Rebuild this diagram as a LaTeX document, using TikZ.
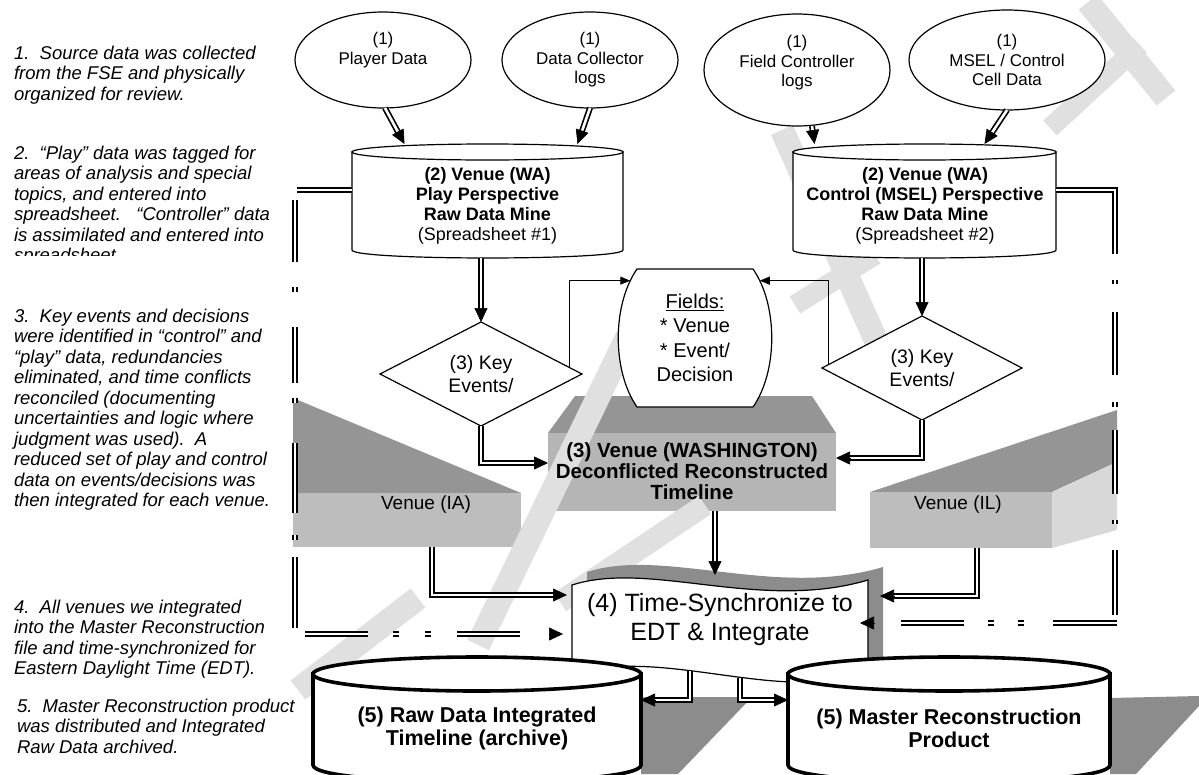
\documentclass[tikz,border=0pt]{standalone}
\usepackage{fontspec}
\setmainfont{Liberation Sans}
\usetikzlibrary{shapes.geometric,arrows.meta,calc}
\definecolor{topgray}{HTML}{959595}
\definecolor{frontgray}{HTML}{BDBDBD}
\definecolor{sidegray}{HTML}{D8D8D8}
\definecolor{washgray}{HTML}{B5B5B5}
\definecolor{shadowgray}{HTML}{8C8C8C}
\definecolor{draftgray}{HTML}{E0E0E0}

% cylinder outline around an (empty) body node: #1 name, #2 rim half-height, #3 half width, #4 style
\newcommand{\drawcyl}[4]{%
  \draw[#4] ([yshift=-#2pt]#1.north west) -- (#1.south west)
    .. controls ([yshift=-1.33*#2pt]#1.south west) and ([yshift=-1.33*#2pt]#1.south east) .. (#1.south east)
    -- ([yshift=-#2pt]#1.north east) -- cycle;
  \draw[#4] ([yshift=-#2pt]#1.north) ellipse [x radius=#3pt, y radius=#2pt];}

\begin{document}
\begin{tikzpicture}[x=1pt, y=-1pt,
  every node/.style={inner sep=0pt, outer sep=0pt},
  dbl/.style={double=white, double distance=2.6pt, line width=1.7pt},
  arrowtip/.style={-{Triangle[length=14pt,width=13pt]}, line width=0.6pt},
  thinarr/.style={line width=1.1pt, -{Triangle[length=10pt,width=8pt]}},
  srcell/.style={ellipse, draw, line width=1.2pt, fill=white},
  srctext/.style={align=center, font=\fontsize{17}{19.5}\selectfont},
  minetext/.style={align=center, font=\fontsize{18}{20}\selectfont\bfseries},
  keydiamond/.style={diamond, draw, line width=1.2pt, fill=white, align=center,
    font=\fontsize{19.5}{23}\selectfont},
  venuetext/.style={font=\fontsize{19}{22}\selectfont},
  storetext/.style={align=center, font=\fontsize{21.5}{23}\selectfont\bfseries},
  note/.style={anchor=north west, align=left, font=\fontsize{18.5}{20.5}\selectfont\itshape},
  wmstroke/.style={draw=draftgray, line width=24pt, line cap=butt},
]
\clip (0,0) rectangle (1199,774);
\fill[white] (0,0) rectangle (1199,774);

% ---------- shaded venue blocks
\fill[topgray] (293,398) -- (521,493) -- (293,493) -- cycle;
\node[fill=frontgray, minimum width=228pt, minimum height=54pt] (ia) at (407,520) {};

\fill[topgray] (870,492) -- (1117,410) -- (1117,462) -- (1052,492) -- cycle;
\fill[sidegray] (1052,492) -- (1117,462) -- (1117,530) -- (1052,548) -- cycle;
\node[fill=frontgray, minimum width=182pt, minimum height=56pt] (il) at (961,520) {};

\fill[topgray] (548,433) -- (575,396) -- (812,396) -- (836,433) -- cycle;
\node[fill=washgray, minimum width=288pt, minimum height=78pt] (w) at (692,472) {};

% ---------- cast shadows of the bottom stores
\fill[shadowgray] (641,697) -- (752,697) -- (678,774) -- (641,774) -- cycle;
\fill[shadowgray] (1110,698) -- (1199,696) -- (1199,706) -- (1136,774) -- (1110,774) -- cycle;

% ---------- faint DRAFT strokes behind the chart
\draw[wmstroke] (1088,2) -- (1166,98);
\draw[wmstroke, line width=20pt] (1140,45) -- (1050,128);
\draw[wmstroke] (782,130) -- (878,345);
\draw[wmstroke, line width=20pt] (795,305) -- (875,255);
\draw[wmstroke] (478,645) -- (650,290);
\draw[wmstroke, line width=22pt] (560,602) -- (705,505);
\draw[wmstroke] (298,690) -- (418,598);

% ---------- block labels
\node[venuetext] (iat) at (426,505) {Venue (IA)};
\node[venuetext] (ilt) at (958,505) {Venue (IL)};
\node[align=center, font=\fontsize{20.5}{21}\selectfont\bfseries] (wt) at (692,471)
  {(3) Venue (WASHINGTON)\\Deconflicted Reconstructed\\Timeline};

% ---------- data sources
\node[srcell, minimum width=176pt, minimum height=96pt] (e1) at (383,60) {};
\node[srcell, minimum width=176pt, minimum height=96pt] (e2) at (590,60) {};
\node[srcell, minimum width=186pt, minimum height=112pt] (e3) at (797,70) {};
\node[srcell, minimum width=196pt, minimum height=100pt] (e4) at (1007,60) {};
\node[srctext] (e1t) at (383,50) {(1)\\Player Data};
\node[srctext] (e2t) at (590,60) {(1)\\Data Collector\\logs};
\node[srctext] (e3t) at (797,63) {(1)\\Field Controller\\logs};
\node[srctext] (e4t) at (1007,60) {(1)\\MSEL / Control\\Cell Data};

% ---------- raw data mines
\node[minimum width=271pt, minimum height=106pt] (c1) at (487.5,197) {};
\drawcyl{c1}{8}{135.5}{line width=1.2pt, fill=white}
\node[minetext] (c1t) at (487.5,206)
  {(2) Venue (WA)\\Play Perspective\\Raw Data Mine\\\mdseries(Spreadsheet \#1)};
\node[minimum width=263pt, minimum height=106pt] (c2) at (924.5,197) {};
\drawcyl{c2}{8}{131.5}{line width=1.2pt, fill=white}
\node[minetext] (c2t) at (925,206)
  {(2) Venue (WA)\\Control (MSEL) Perspective\\Raw Data Mine\\\mdseries(Spreadsheet \#2)};

% ---------- key event decisions
\node[keydiamond, minimum width=202pt, minimum height=104pt] (d1) at (481,374) {(3) Key\\Events/};
\node[keydiamond, minimum width=200pt, minimum height=104pt] (d2) at (922,368) {(3) Key\\Events/};

% ---------- field list
\node[minimum width=116pt, minimum height=138pt] (f) at (695,338) {};
\draw[line width=1.2pt, fill=white] (f.north west) -- (f.north east)
  .. controls ([xshift=25pt,yshift=-36pt]f.north east) and ([xshift=25pt,yshift=36pt]f.south east)
  .. coordinate[pos=0.1] (fR) (f.south east) -- (f.south west)
  .. controls ([xshift=-25pt,yshift=36pt]f.south west) and ([xshift=-25pt,yshift=-36pt]f.north west)
  .. coordinate[pos=0.9] (fL) (f.north west) -- cycle;
\node[align=center, font=\fontsize{20}{24.5}\selectfont] (ft) at (695,338)
  {\underline{Fields:}\\* Venue\\* Event/\\Decision};

% ---------- time synchronisation document
\begin{scope}[shift={(15,-13)}]
  \fill[shadowgray] (572,585) .. controls (650,560) and (760,612) .. (868,580) -- (868,672)
    .. controls (780,705) and (660,645) .. (572,675) -- cycle;
\end{scope}
\draw[line width=1.2pt, fill=white] (572,585) .. controls (650,560) and (760,612) .. (868,580) -- (868,672)
  .. controls (780,705) and (660,645) .. (572,675) -- cycle;
\node[minimum width=296pt, minimum height=90pt] (t) at (720,628) {};
\node[align=center, font=\fontsize{25}{29}\selectfont] (tt) at (720,620)
  {(4) Time-Synchronize to\\EDT \& Integrate};

% ---------- final stores
\node[minimum width=328pt, minimum height=108pt] (c3) at (477,711) {};
\drawcyl{c3}{17}{164}{line width=3.6pt, fill=white}
\node[storetext] (c3t) at (477,728) {(5) Raw Data Integrated\\Timeline (archive)};
\node[minimum width=322pt, minimum height=108pt] (c4) at (949,711) {};
\drawcyl{c4}{17}{161}{line width=3.6pt, fill=white}
\node[storetext] (c4t) at (949,728) {(5) Master Reconstruction\\Product};

% ---------- connectors: sources into mines
\coordinate (sa1) at ([xshift=2pt]e1.south);   \coordinate (sb1) at ([xshift=-83pt]c1.north);
\coordinate (sa2) at (e2.south);               \coordinate (sb2) at ([xshift=90pt]c1.north);
\coordinate (sa3) at ([xshift=15pt]e3.south);  \coordinate (sb3) at ([xshift=-110pt]c2.north);
\coordinate (sa4) at (e4.south);               \coordinate (sb4) at ([xshift=60pt]c2.north);
\foreach \i in {1,...,4}{
  \draw[dbl, shorten >=13pt] (sa\i) -- (sb\i);
  \draw[arrowtip] ($(sb\i)!14pt!(sa\i)$) -- (sb\i);
}

% mines into key events
\coordinate (m1) at ([yshift=-8pt]c1.south);
\coordinate (m2) at ([yshift=-8pt]c2.south);
\draw[dbl, shorten >=13pt] (d1.north |- m1) -- (d1.north);
\draw[arrowtip] ([yshift=14pt]d1.north) -- (d1.north);
\draw[dbl, shorten >=13pt] (d2.north |- m2) -- (d2.north);
\draw[arrowtip] ([yshift=14pt]d2.north) -- (d2.north);

% key events into field list
\draw[thinarr] (d1.4) |- (fL);
\draw[thinarr] (d2.178) |- (fR);

% key events into the deconflicted timeline
\coordinate (wl) at ([yshift=9pt]w.west);
\coordinate (wr) at ([yshift=14pt]w.east);
\draw[dbl, shorten >=13pt] (d1.south) |- (wl);
\draw[arrowtip] ([xshift=-14pt]wl) -- (wl);
\draw[dbl, shorten >=13pt] (d2.south) |- (wr);
\draw[arrowtip] ([xshift=14pt]wr) -- (wr);

% venues into the time synchronisation
\coordinate (w0) at ([xshift=23pt]w.south);
\coordinate (tn) at ([yshift=8pt]t.north);
\coordinate (t0) at (w0 |- tn);
\draw[dbl, shorten >=13pt] (w0) -- (t0);
\draw[arrowtip] ([yshift=14pt]t0) -- (t0);

\coordinate (ia0) at ([xshift=25pt]ia.south);
\coordinate (tl1) at ([xshift=-5pt,yshift=33pt]t.west);
\draw[dbl, shorten >=13pt] (ia0) |- (tl1);
\draw[arrowtip] ([xshift=-14pt]tl1) -- (tl1);

\coordinate (il0) at ([xshift=16pt]il.south);
\coordinate (tr1) at ([xshift=12pt,yshift=32pt]t.east);
\draw[dbl, shorten >=13pt] (il0) |- (tr1);
\draw[arrowtip] ([xshift=14pt]tr1) -- (tr1);

% play mine, left-hand broken return
\coordinate (lt) at (297,190);
\coordinate (lv1) at (295,200);
\coordinate (lv2) at (295,628);
\coordinate (lh) at (305,634);
\coordinate (tl2) at ([xshift=-9pt,yshift=-6pt]t.west);
\draw[dbl] ([yshift=7pt]c1.west) -- (lt);
\draw[dbl, dash pattern=on 62pt off 25pt on 5pt off 35pt on 56pt off 15pt on 5pt off 40pt on 70pt off 22pt on 5pt off 17pt on 71pt off 20pt]
  (lv1) -- (lv2);
\draw[dbl, dash pattern=on 63pt off 25pt on 6pt off 26pt on 6pt off 26pt on 63pt off 200pt] (lh) -- (tl2);
\draw[arrowtip] ([xshift=-14pt]tl2) -- (tl2);

% control mine, right-hand broken return
\coordinate (rt) at (1115,190);
\coordinate (rb) at (1115,615);
\coordinate (rh) at (1117,623);
\coordinate (tr2) at ([xshift=-8pt,yshift=5pt]t.east);
\draw[dbl, line join=miter, dash pattern=on 123pt off 26pt on 4pt off 28pt on 63pt off 27pt on 5pt off 23pt on 64pt off 26pt on 4pt off 26pt on 66pt off 50pt]
  ([yshift=7pt]c2.east) -- (rt) -- (rb);
\draw[dbl, dash pattern=on 64pt off 29pt on 6pt off 24pt on 6pt off 24pt on 63pt off 200pt] (rh) -- (tr2);
\draw[arrowtip] ([xshift=14pt]tr2) -- (tr2);

% time synchronisation into the stores
\coordinate (tb1) at ([xshift=-30pt,yshift=2pt]t.south);
\coordinate (c3r) at ([yshift=11pt]c3.east);
\draw[dbl, shorten >=13pt] (tb1) |- (c3r);
\draw[arrowtip] ([xshift=14pt]c3r) -- (c3r);
\coordinate (tb2) at ([xshift=20pt,yshift=-5pt]t.south);
\coordinate (c4l) at ([yshift=11pt]c4.west);
\draw[dbl, shorten >=13pt] (tb2) |- (c4l);
\draw[arrowtip] ([xshift=-14pt]c4l) -- (c4l);

% ---------- process notes
\node[note] (n1) at (14,46) {1.\ \ Source data was collected\\from the FSE and physically\\organized for review.};
\begin{scope}
  \clip (0,130) rectangle (290,255);
  \node[note] (n2) at (14,146) {2.\ \ “Play” data was tagged for\\areas of analysis and special\\topics, and entered into\\spreadsheet.\ \ \ “Controller” data\\is assimilated and entered into\\spreadsheet.};
\end{scope}
\node[note] (n3) at (14,309) {3.\ \ Key events and decisions\\were identified in “control” and\\“play” data, redundancies\\eliminated, and time conflicts\\reconciled (documenting\\uncertainties and logic where\\judgment was used).\ \ A\\reduced set of play and control\\data on events/decisions was\\then integrated for each venue.};
\node[note] (n4) at (14,600) {4.\ \ All venues we integrated\\into the Master Reconstruction\\file and time-synchronized for\\Eastern Daylight Time (EDT).};
\node[note] (n5) at (17,699) {5.\ \ Master Reconstruction product\\was distributed and Integrated\\Raw Data archived.};
\end{tikzpicture}
\end{document}
